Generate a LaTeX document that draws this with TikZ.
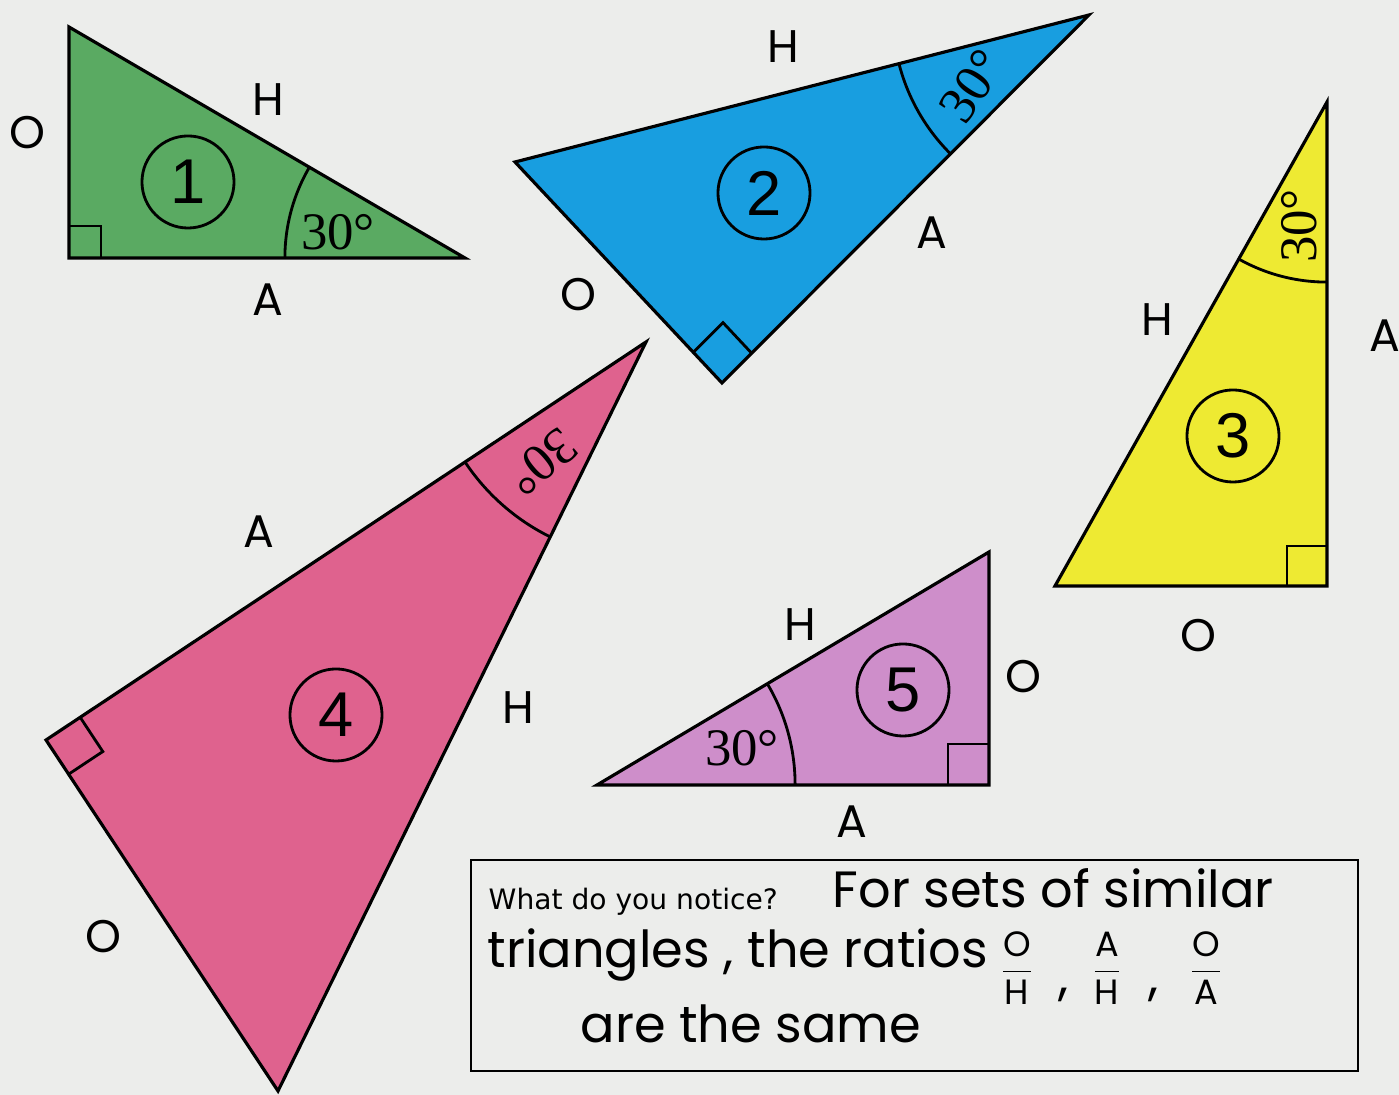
\documentclass[tikz,border=0pt]{standalone}
\usepackage{fontspec}
\setmainfont{Liberation Serif}
\newfontfamily\numfont{Liberation Sans}
\newfontfamily\printfont{DejaVu Sans}
\newfontfamily\handfont{Poppins}
\usetikzlibrary{calc}
\definecolor{paper}{RGB}{236,237,235}
\definecolor{triGreen}{RGB}{90,170,98}
\definecolor{triBlue}{RGB}{24,158,224}
\definecolor{triYellow}{RGB}{238,234,50}
\definecolor{triPink}{RGB}{223,98,142}
\definecolor{triPurple}{RGB}{206,142,202}

\begin{document}
\begin{tikzpicture}[x=0.01cm, y=-0.01cm,
  tri/.style={draw=black,line width=0.9pt,line join=miter},
  num/.style={draw,circle,line width=0.8pt,minimum size=0.92cm,inner sep=0pt,font=\numfont\fontsize{18}{18}\selectfont},
  deg/.style={inner sep=0pt,font=\fontsize{15}{15}\selectfont},
  side/.style={inner sep=0pt,font=\handfont\fontsize{13}{13}\selectfont},
  hand/.style={inner sep=0pt,anchor=base west,font=\handfont\fontsize{14.5}{14.5}\selectfont},
  frac/.style={inner sep=0pt,font=\handfont\fontsize{10}{10}\selectfont}]
\fill[paper] (0,0) rectangle (1399,1095);
\useasboundingbox (0,0) rectangle (1399,1095);
% corners: r = right angle, d = 30 degrees, o = the third one
\coordinate (r1) at (69,258);  \coordinate (d1) at (465,258);  \coordinate (o1) at (69,27);
\coordinate (r2) at (722,383); \coordinate (d2) at (1089,15);  \coordinate (o2) at (515,162);
\coordinate (r3) at (1327,586);\coordinate (d3) at (1327,102); \coordinate (o3) at (1055,586);
\coordinate (r4) at (46,740);  \coordinate (d4) at (646,342);  \coordinate (o4) at (278,1091);
\coordinate (r5) at (989,785); \coordinate (d5) at (597,785);  \coordinate (o5) at (989,552);
\foreach \k/\col in {1/triGreen,2/triBlue,3/triYellow,4/triPink,5/triPurple}
  \filldraw[tri,fill=\col] (r\k) -- (d\k) -- (o\k) -- cycle;
% angle arcs
\foreach \k/\rad in {1/1.80cm,2/1.96cm,3/1.80cm,4/2.17cm,5/1.98cm} {
  \begin{scope}
    \clip (r\k) -- (d\k) -- (o\k) -- cycle;
    \draw[line width=0.8pt] (d\k) circle[radius=\rad];
  \end{scope}
}
% right angle marks
\foreach \k/\sz in {1/0.32cm,2/0.42cm,3/0.40cm,4/0.41cm,5/0.41cm} {
  \path ($(r\k)!\sz!(d\k)$) coordinate (ma\k) ($(r\k)!\sz!(o\k)$) coordinate (mb\k);
  \draw[line width=0.8pt] (ma\k) -- ($(ma\k)+(mb\k)-(r\k)$) -- (mb\k);
}
% numbers
\node[num] (n1) at (188,182) {1};
\node[num] (n2) at (764,193) {2};
\node[num] (n3) at (1233,436) {3};
\node[num] (n4) at (336,715) {4};
\node[num] (n5) at (903,690) {5};
% angles
\node[deg] (a1) at (338,232) {30°};
\node[deg,rotate=56] (a2) at (972,86) {30°};
\node[deg,rotate=90] (a3) at (1299,226) {30°};
\node[deg,rotate=220] (a4) at (542,462) {30°};
\node[deg] (a5) at (742,748) {30°};
% side labels
\node[side] (O1) at (27,133) {O};   \node[side] (H1) at (268,100) {H};  \node[side] (A1) at (268,300) {A};
\node[side] (H2) at (783,47) {H};   \node[side] (A2) at (932,233) {A};  \node[side] (O2) at (578,295) {O};
\node[side] (H3) at (1157,320) {H}; \node[side] (A3) at (1385,336) {A}; \node[side] (O3) at (1198,636) {O};
\node[side] (A4) at (259,532) {A};  \node[side] (H4) at (518,708) {H};  \node[side] (O4) at (103,937) {O};
\node[side] (H5) at (800,625) {H};  \node[side] (O5) at (1023,677) {O}; \node[side] (A5) at (852,822) {A};
% answer box
\node[draw,line width=0.6pt,minimum width=8.87cm,minimum height=2.11cm,inner sep=0pt] (box) at (914.5,965.5) {};
\node[inner sep=0pt,anchor=base west,font=\printfont\fontsize{8}{8}\selectfont] (ask) at (488,910) {What do you notice?};
\node[hand] (l1) at (832,908) {For sets of similar};
\node[hand] (l2) at (487,968) {triangles , the ratios};
\node[frac] (f1) at (1017,968) {$\displaystyle\frac{\hbox{O}}{\hbox{H}}$};
\node[frac] (f2) at (1107,968) {$\displaystyle\frac{\hbox{A}}{\hbox{H}}$};
\node[frac] (f3) at (1206,968) {$\displaystyle\frac{\hbox{O}}{\hbox{A}}$};
\node[hand] (c1) at (1058,995) {,};
\node[hand] (c2) at (1148,995) {,};
\node[hand] (l3) at (580,1043) {are the same};
\end{tikzpicture}
\end{document}
